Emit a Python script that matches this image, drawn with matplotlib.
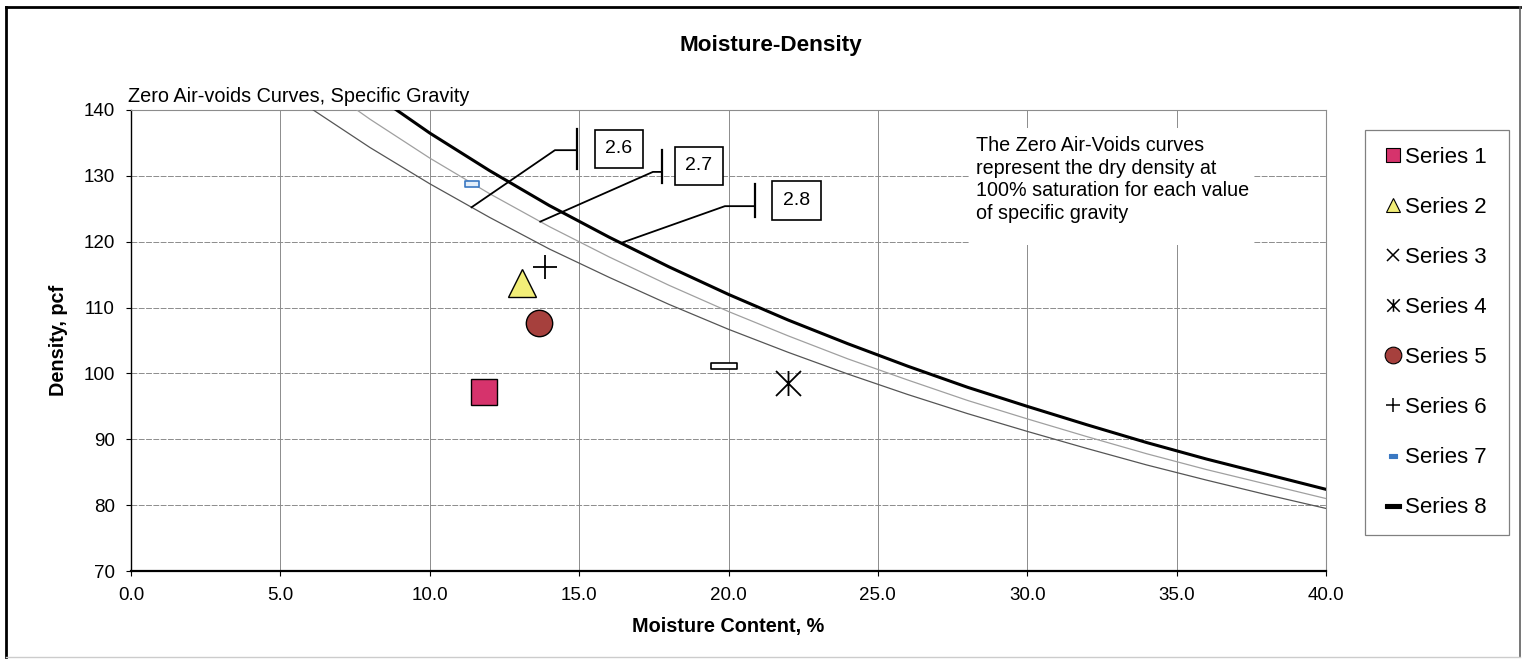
import numpy as np
import matplotlib
matplotlib.use('Agg')
import matplotlib.pyplot as plt
from matplotlib.path import Path
from matplotlib.lines import Line2D
from matplotlib.patches import Rectangle

plt.rcParams['font.family'] = ['Liberation Sans', 'DejaVu Sans']

# --- zero air-voids curves (every 2 % moisture) ---
moisture = [6, 8, 10, 12, 14, 16, 18, 20, 22, 24, 26, 28, 30, 32, 34, 36, 38, 40]
zav_26 = [140.3, 134.3, 128.8, 123.7, 118.9, 114.6, 110.5, 106.7, 103.2, 99.9,
          96.8, 93.9, 91.2, 88.6, 86.1, 83.8, 81.6, 79.5]
zav_27 = [145.0, 138.6, 132.7, 127.3, 122.3, 117.7, 113.4, 109.4, 105.7, 102.2,
          99.0, 95.9, 93.1, 90.4, 87.8, 85.4, 83.2, 81.0]
zav_28 = [149.6, 142.8, 136.5, 130.8, 125.5, 120.7, 116.2, 112.0, 108.1, 104.5,
          101.1, 97.9, 95.0, 92.2, 89.5, 87.0, 84.7, 82.4]

# --- test points ---
s1_w, s1_d = [11.8], [97.2]
s2_w, s2_d = [13.1], [113.8]
s3_w, s3_d = [], []
s4_w, s4_d = [22.0], [98.5]
s5_w, s5_d = [13.65], [107.7]
s6_w, s6_d = [13.85], [116.2]
s7_w, s7_d = [11.4], [128.8]
s8_w, s8_d = [19.85], [101.1]

series_names = ['Series 1', 'Series 2', 'Series 3', 'Series 4',
                'Series 5', 'Series 6', 'Series 7', 'Series 8']

# callout labels for the curves
gs_labels = ['2.6', '2.7', '2.8']
tip_moisture = [11.4, 13.7, 16.4]

x_ticks = [0, 5, 10, 15, 20, 25, 30, 35, 40]
y_ticks = [70, 80, 90, 100, 110, 120, 130, 140]

note = ("The Zero Air-Voids curves\nrepresent the dry density at\n"
        "100% saturation for each value\nof specific gravity")

# --- custom marker shapes ---
def rect_path(h):
    return Path([(-1, -h), (1, -h), (1, h), (-1, h), (-1, -h)],
                [Path.MOVETO, Path.LINETO, Path.LINETO, Path.LINETO, Path.CLOSEPOLY])

asterisk = Path([(-1, -1), (1, 1), (-1, 1), (1, -1), (0, -1), (0, 1)],
                [Path.MOVETO, Path.LINETO, Path.MOVETO, Path.LINETO, Path.MOVETO, Path.LINETO])

W, H = 1526, 661
fig = plt.figure(figsize=(W / 100, H / 100), dpi=100)
ax = fig.add_axes([131 / W, 1 - 571 / H, (1326 - 131) / W, (571 - 110) / H])

ax.set_axisbelow(True)
ax.xaxis.grid(True, color='#8c8c8c', lw=0.7)
ax.yaxis.grid(True, color='#8c8c8c', lw=0.7, linestyle=(0, (6, 1.5)))

# curves
ax.plot(moisture, zav_26, color='#555555', lw=0.9, zorder=3)
ax.plot(moisture, zav_27, color='#a0a0a0', lw=0.9, zorder=3)
ax.plot(moisture, zav_28, color='black', lw=2.2, zorder=3)

# points
ax.plot(s1_w, s1_d, ls='none', marker='s', ms=19, mfc='#d6336c', mec='black', mew=1, zorder=5)
ax.plot(s2_w, s2_d, ls='none', marker='^', ms=20, mfc='#f2ee78', mec='black', mew=1, zorder=5)
ax.plot(s3_w, s3_d, ls='none', marker='x', ms=16, color='black', zorder=5)
ax.plot(s4_w, s4_d, ls='none', marker=asterisk, ms=18, mfc='none', mec='black', mew=1.3, zorder=5)
ax.plot(s5_w, s5_d, ls='none', marker='o', ms=19, mfc='#a6403d', mec='black', mew=1, zorder=5)
ax.plot(s6_w, s6_d, ls='none', marker='+', ms=17, mec='black', mew=1.3, zorder=5)
ax.plot(s7_w, s7_d, ls='none', marker=rect_path(0.45), ms=10, mfc='#e3eef9', mec='#3a78c2', mew=1.2, zorder=5)
ax.plot(s8_w, s8_d, ls='none', marker=rect_path(0.22), ms=19, mfc='white', mec='black', mew=1.2, zorder=5)

# callouts: label box, accent bar, elbow and leader to the curve
label_pos = [(16.33, 134.1), (19.01, 131.5), (22.28, 126.26)]
bar_x = [14.93, 17.77, 20.89]
bar_span = [(131.0, 137.1), (128.9, 133.9), (123.75, 128.8)]
elbow = [(14.19, 133.9), (17.47, 130.6), (19.88, 125.4)]
curves = [zav_26, zav_27, zav_28]
for lab, tw, lp, bx, bs, el, cv in zip(gs_labels, tip_moisture, label_pos, bar_x,
                                       bar_span, elbow, curves):
    td = np.interp(tw, moisture, cv)
    ax.plot([tw, el[0], bx], [td, el[1], el[1]], color='black', lw=1.3, zorder=4)
    ax.plot([bx, bx], bs, color='black', lw=1.6, zorder=4)
    ax.text(lp[0], lp[1], lab, ha='center', va='center', fontsize=14, zorder=6,
            bbox=dict(boxstyle='square,pad=0.55', fc='white', ec='black', lw=1.2))

# note with white background
ax.add_patch(Rectangle((28.08, 119.5), 37.56 - 28.08, 137.27 - 119.5,
                       fc='white', ec='none', zorder=2))
ax.text(28.3, 136.1, note, ha='left', va='top', fontsize=14.2, linespacing=1.26, zorder=6)

ax.set_xlim(0, 40)
ax.set_ylim(70, 140)
ax.set_xticks(x_ticks)
ax.set_xticklabels(['%.1f' % v for v in x_ticks])
ax.set_yticks(y_ticks)
ax.tick_params(axis='both', direction='out', length=3.6, width=0.8, labelsize=13.5, colors='black')
ax.tick_params(axis='x', pad=8)
ax.tick_params(axis='y', pad=8)
for side in ['top', 'right']:
    ax.spines[side].set_color('#8c8c8c')
    ax.spines[side].set_linewidth(0.8)
ax.spines['left'].set_linewidth(1.0)
ax.spines['bottom'].set_linewidth(1.6)

ax.set_xlabel('Moisture Content, %', fontsize=14.3, fontweight='bold', labelpad=9)
ax.set_ylabel('Density, pcf', fontsize=14.3, fontweight='bold', labelpad=11)

fig.text(771 / W, 1 - 45 / H, 'Moisture-Density', ha='center', va='center',
         fontsize=16.2, fontweight='bold')
fig.text(128 / W, 1 - 97 / H, 'Zero Air-voids Curves, Specific Gravity',
         ha='left', va='center', fontsize=14.3)

# legend
handles = [
    Line2D([], [], ls='none', marker='s', ms=10, mfc='#d6336c', mec='black', mew=0.8),
    Line2D([], [], ls='none', marker='^', ms=10, mfc='#f2ee78', mec='black', mew=0.8),
    Line2D([], [], ls='none', marker='x', ms=9, mec='black', mew=1.1),
    Line2D([], [], ls='none', marker=asterisk, ms=9, mfc='none', mec='black', mew=1.1),
    Line2D([], [], ls='none', marker='o', ms=12, mfc='#a6403d', mec='black', mew=0.8),
    Line2D([], [], ls='none', marker='+', ms=10, mec='black', mew=1.1),
    Line2D([], [], ls='none', marker=rect_path(0.45), ms=6, mfc='#3a78c2', mec='#3a78c2', mew=0.8),
    Line2D([], [], ls='none', marker=rect_path(0.25), ms=12, mfc='black', mec='black', mew=0.8),
]
leg = fig.legend(handles, series_names, loc='upper left',
                 bbox_to_anchor=(1365 / W, 1 - 130 / H, (1509 - 1365) / W, 0),
                 mode='expand', borderaxespad=0, fontsize=16, labelspacing=1.31,
                 borderpad=0.75, handlelength=1.0, handletextpad=0.05,
                 fancybox=False, framealpha=1)
leg.get_frame().set_edgecolor('#808080')
leg.get_frame().set_linewidth(0.9)

# outer frame of the sheet
fig.add_artist(Line2D([6 / W, 6 / W], [1 - 657 / H, 1 - 7 / H], transform=fig.transFigure, color='black', lw=2))
fig.add_artist(Line2D([6 / W, 1520 / W], [1 - 7 / H, 1 - 7 / H], transform=fig.transFigure, color='black', lw=2))
fig.add_artist(Line2D([1520 / W, 1520 / W], [1 - 657 / H, 1 - 7 / H], transform=fig.transFigure, color='#606060', lw=1.2))
fig.add_artist(Line2D([6 / W, 1520 / W], [1 - 657 / H, 1 - 657 / H], transform=fig.transFigure, color='#cccccc', lw=1))

fig.savefig('out.png', dpi=100)
